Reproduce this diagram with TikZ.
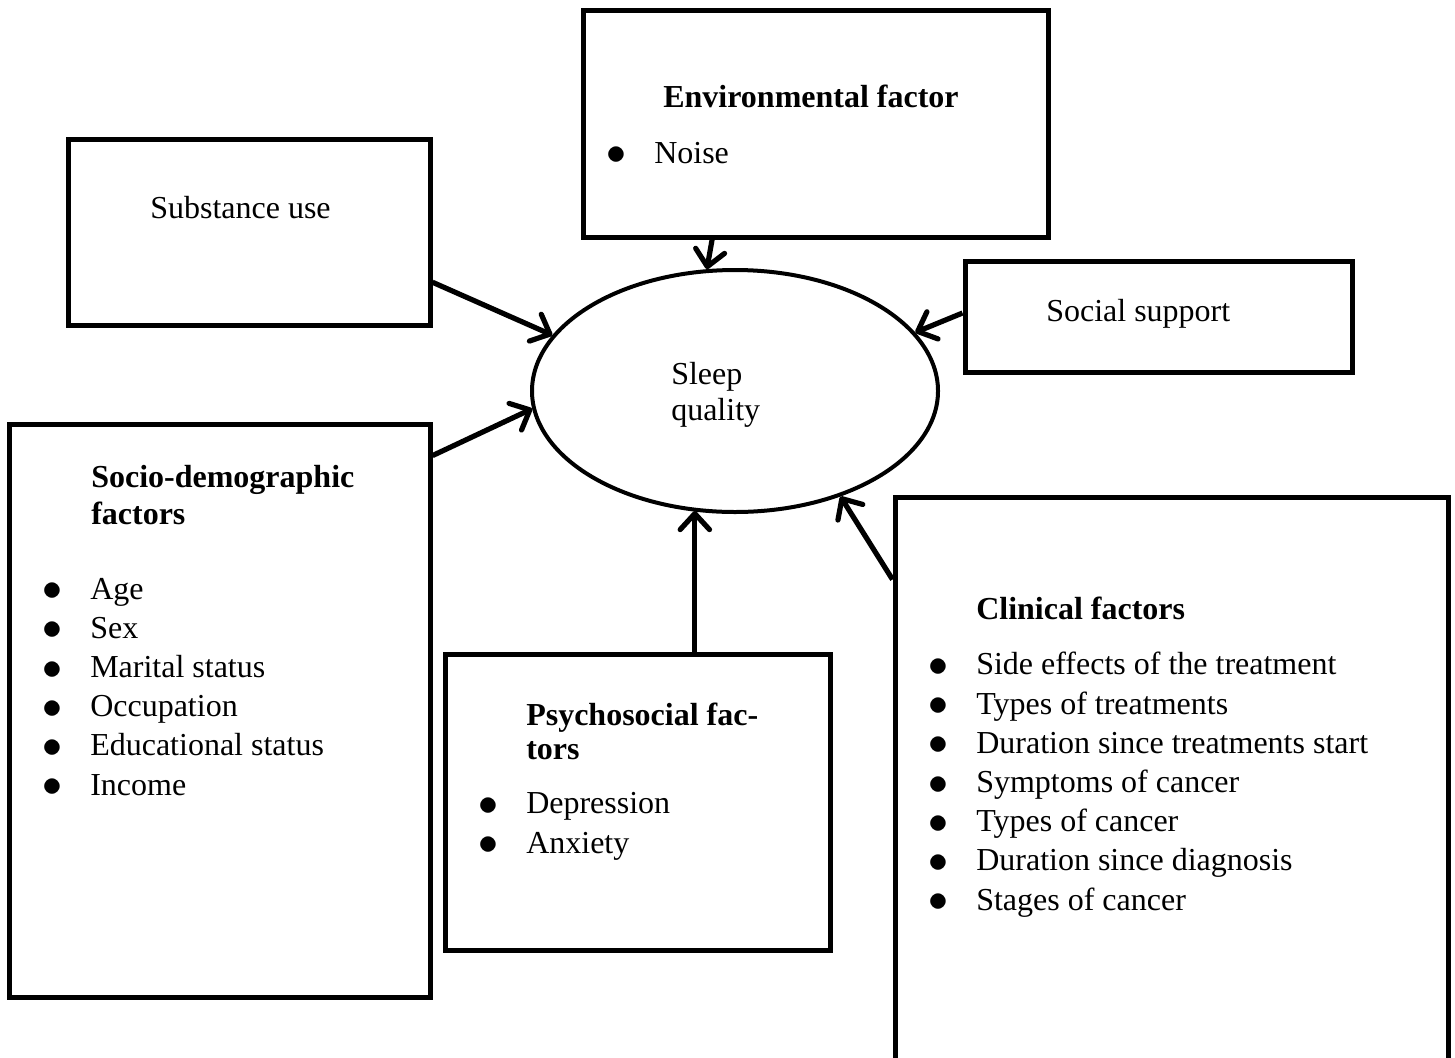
\documentclass[tikz,border=0pt]{standalone}
\usepackage{fontspec}
\setmainfont{Liberation Serif}
\usetikzlibrary{shapes.geometric,arrows.meta,calc}
\newcommand{\bl}{\makebox[36pt][l]{\raisebox{-1.2pt}{\scalebox{1.2}{$\bullet$}}}}
\tikzset{
 box/.style={draw, line width=3.75pt, inner sep=0pt},
 conn/.style={line width=3.9pt, -{Straight Barb[length=12pt,width=22pt,round]}},
 txt/.style={inner sep=0pt, anchor=base west, align=left, font=\fontsize{24}{29.4}\selectfont},
 ttl/.style={inner sep=0pt, anchor=base west, align=left, font=\fontsize{24}{27.75}\selectfont\bfseries},
}
\begin{document}
\begin{tikzpicture}[x=0.75pt,y=-0.75pt]
\clip (0,0) rectangle (1455,1057);
\fill[white] (0,0) rectangle (1455,1057);
% boxes
\node[box, minimum width=271.5pt, minimum height=139.5pt] (sub) at (249,232) {};
\node[box, minimum width=348.75pt, minimum height=170.25pt] (env) at (815.5,123.5) {};
\node[box, minimum width=290.25pt, minimum height=83.25pt] (ss) at (1158.5,316.5) {};
\node[box, minimum width=315.75pt, minimum height=429.75pt] (soc) at (219.5,710.5) {};
\node[box, minimum width=288.75pt, minimum height=222pt] (psy) at (637.5,802) {};
\node[box, minimum width=414.75pt, minimum height=452.25pt] (cli) at (1171.5,798.5) {};
\node[draw, ellipse, line width=3pt, minimum width=304.5pt, minimum height=181.5pt] (sleep) at (735,391) {};
% texts
\node[txt] (subtxt) at (150,218) {Substance use};
\node[ttl, anchor=base] (envttl) at (811,107) {Environmental factor};
\node[txt] (envlist) at (606,163) {\bl Noise};
\node[txt] (sstxt) at (1046,321) {Social support};
\node[txt, font=\fontsize{24}{27}\selectfont] (sleeptxt) at (671,420) {Sleep\\quality};
\node[ttl] (socttl) at (91,524) {Socio-demographic\\factors};
\node[txt] (soclist) at (42,795) {\bl Age\\\bl Sex\\\bl Marital status\\\bl Occupation\\\bl Educational status\\\bl Income};
\node[ttl, font=\fontsize{24}{25.5}\selectfont\bfseries] (psyttl) at (526,759) {Psychosocial fac-\\tors};
\node[txt] (psylist) at (478,853) {\bl Depression\\\bl Anxiety};
\node[ttl] (clittl) at (976,619) {Clinical factors};
\node[txt] (clilist) at (928,910) {\bl Side effects of the treatment\\\bl Types of treatments\\\bl Duration since treatments start\\\bl Symptoms of cancer\\\bl Types of cancer\\\bl Duration since diagnosis\\\bl Stages of cancer};
% connectors
\coordinate (psyA) at ($(psy.north west)!0.647!(psy.north east)$);
\draw[conn] ($(sub.south east)!0.237!(sub.north east)$) -- (sleep.163.5);
\draw[conn] ($(soc.north east)!0.059!(soc.south east)$) -- (sleep.185);
\draw[conn] ($(env.south west)!0.28!(env.south east)$) -- (sleep.103.7);
\draw[conn] ($(ss.north west)!0.47!(ss.south west)$) -- (sleep.18.5);
\draw[conn] (psyA) -- ($(psyA |- sleep.south)+(0,-3)$);
\draw[conn] ($(cli.north west)+(0,85)$) -- (sleep.315.3);
\end{tikzpicture}
\end{document}
